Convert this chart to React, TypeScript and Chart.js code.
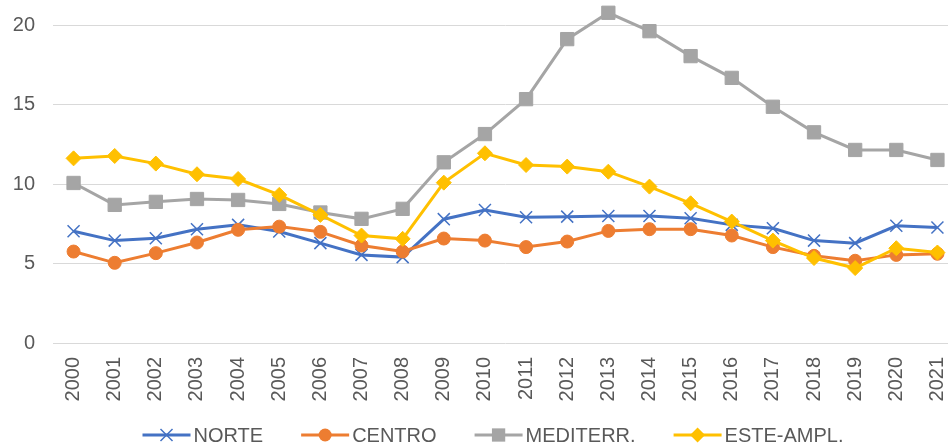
import { useEffect, useRef } from 'react';
import { Chart, registerables } from 'chart.js';

Chart.register(...registerables);

const years = [
  '2000', '2001', '2002', '2003', '2004', '2005', '2006', '2007', '2008', '2009', '2010',
  '2011', '2012', '2013', '2014', '2015', '2016', '2017', '2018', '2019', '2020', '2021',
];

const norte = [7.04, 6.45, 6.6, 7.17, 7.44, 7.02, 6.29, 5.55, 5.41, 7.8, 8.38, 7.92, 7.96, 8.0, 8.0, 7.86, 7.44, 7.23, 6.45, 6.29, 7.38, 7.27];
const centro = [5.76, 5.05, 5.66, 6.33, 7.13, 7.33, 7.0, 6.14, 5.76, 6.58, 6.45, 6.04, 6.39, 7.06, 7.17, 7.17, 6.77, 6.04, 5.49, 5.18, 5.55, 5.62];
const mediterr = [10.08, 8.7, 8.89, 9.07, 9.01, 8.76, 8.22, 7.82, 8.45, 11.38, 13.16, 15.36, 19.14, 20.8, 19.64, 18.07, 16.7, 14.88, 13.27, 12.16, 12.16, 11.53];
const esteAmpl = [11.63, 11.78, 11.3, 10.63, 10.33, 9.33, 8.07, 6.77, 6.56, 10.1, 11.95, 11.21, 11.11, 10.79, 9.85, 8.8, 7.65, 6.45, 5.35, 4.72, 5.97, 5.7];

const seriesNames = ['NORTE', 'CENTRO', 'MEDITERR.', 'ESTE-AMPL.'];
const yTicks = [0, 5, 10, 15, 20];
const yMax = 21;

const FONT = '"Liberation Sans", Arial, sans-serif';
const TEXT = '#595959';
const W = 958;
const H = 445;

type Marker = 'crossRot' | 'circle' | 'rect' | 'rectRot';

function drawMarker(ctx: CanvasRenderingContext2D, kind: Marker, x: number, y: number, r: number, color: string) {
  ctx.save();
  ctx.fillStyle = color;
  ctx.strokeStyle = color;
  ctx.beginPath();
  if (kind === 'circle') {
    ctx.arc(x, y, r, 0, Math.PI * 2);
    ctx.fill();
  } else if (kind === 'rect') {
    const s = r * Math.SQRT1_2;
    ctx.rect(x - s, y - s, 2 * s, 2 * s);
    ctx.fill();
  } else if (kind === 'rectRot') {
    ctx.moveTo(x, y - r);
    ctx.lineTo(x + r, y);
    ctx.lineTo(x, y + r);
    ctx.lineTo(x - r, y);
    ctx.closePath();
    ctx.fill();
  } else {
    const s = r * Math.SQRT1_2;
    ctx.lineWidth = 1.5;
    ctx.moveTo(x - s, y - s);
    ctx.lineTo(x + s, y + s);
    ctx.moveTo(x - s, y + s);
    ctx.lineTo(x + s, y - s);
    ctx.stroke();
  }
  ctx.restore();
}

// Office-style legend: a short line with the series marker, then its name
const lineLegend = {
  id: 'lineLegend',
  afterDraw(chart: any) {
    const ctx: CanvasRenderingContext2D = chart.ctx;
    const lineLen = 48;
    const gap = 3;
    const itemGap = 38;
    const centerX = 493;
    const y = 435;
    ctx.save();
    ctx.font = `20px ${FONT}`;
    ctx.textBaseline = 'middle';
    const items = chart.data.datasets.map((ds: any) => ({ ds, w: ctx.measureText(ds.label).width }));
    const total = items.reduce((s: number, it: any) => s + lineLen + gap + it.w, 0) + itemGap * (items.length - 1);
    let x = centerX - total / 2;
    for (const it of items) {
      const ds = it.ds;
      ctx.strokeStyle = ds.borderColor;
      ctx.lineWidth = 3;
      ctx.beginPath();
      ctx.moveTo(x, y);
      ctx.lineTo(x + lineLen, y);
      ctx.stroke();
      drawMarker(ctx, ds.pointStyle, x + lineLen / 2, y, ds.pointRadius, ds.borderColor);
      ctx.fillStyle = TEXT;
      ctx.fillText(ds.label, x + lineLen + gap, y + 1);
      x += lineLen + gap + it.w + itemGap;
    }
    ctx.restore();
  },
};

export default function App() {
  const ref = useRef<HTMLCanvasElement>(null);

  useEffect(() => {
    const mk = (label: string, data: number[], color: string, style: Marker, radius: number, order: number) => ({
      label,
      data,
      borderColor: color,
      backgroundColor: color,
      pointBackgroundColor: color,
      pointBorderColor: color,
      pointStyle: style,
      pointRadius: radius,
      pointBorderWidth: style === 'crossRot' ? 1.5 : 1,
      borderWidth: 3,
      tension: 0,
      clip: false as const,
      order,
    });

    const chart = new Chart(ref.current!, {
      type: 'line',
      data: {
        labels: years,
        datasets: [
          mk(seriesNames[0], norte, '#4472C4', 'crossRot', 8.5, 4),
          mk(seriesNames[1], centro, '#ED7D31', 'circle', 6.5, 3),
          mk(seriesNames[2], mediterr, '#A5A5A5', 'rect', 9.4, 2),
          mk(seriesNames[3], esteAmpl, '#FFC000', 'rectRot', 7.5, 1),
        ] as any,
      },
      options: {
        responsive: false,
        animation: false,
        layout: { autoPadding: false, padding: { top: 9.6, bottom: 40, left: 0, right: 0 } },
        plugins: {
          legend: { display: false },
          tooltip: { enabled: false },
        },
        scales: {
          x: {
            offset: true,
            // invisible tick marks keep the year labels clear of the axis
            grid: {
              display: true,
              drawOnChartArea: false,
              drawTicks: true,
              tickLength: 14,
              color: 'rgba(0,0,0,0)',
            },
            border: { display: false },
            ticks: {
              color: TEXT,
              font: { family: FONT, size: 20, lineHeight: 1 },
              minRotation: 90,
              maxRotation: 90,
              autoSkip: false,
              padding: 0,
            },
            afterFit: (scale: any) => {
              scale.height = 62;
              scale.paddingLeft = 0;
              scale.paddingRight = 0;
            },
          },
          y: {
            min: 0,
            max: yMax,
            afterBuildTicks: (scale: any) => {
              scale.ticks = yTicks.map((v) => ({ value: v }));
            },
            grid: { color: '#D9D9D9', lineWidth: 1, drawTicks: false },
            border: { display: false },
            ticks: {
              color: TEXT,
              font: { family: FONT, size: 20 },
              padding: 18,
            },
            afterFit: (scale: any) => {
              scale.width = 53;
              scale.paddingTop = 0;
              scale.paddingBottom = 0;
            },
          },
        },
      },
      plugins: [lineLegend],
    });

    return () => chart.destroy();
  }, []);

  return (
    <div style={{ position: 'fixed', left: 0, top: 0, width: W, height: H, background: '#ffffff' }}>
      <canvas ref={ref} width={W} height={H} style={{ display: 'block' }} />
    </div>
  );
}
